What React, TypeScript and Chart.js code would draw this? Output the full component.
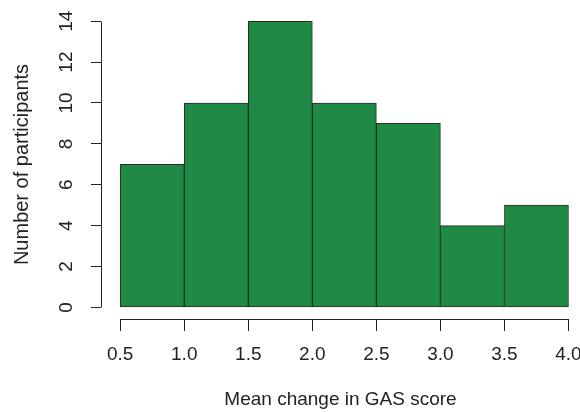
import React, { useEffect, useRef } from 'react';
import { Chart, registerables } from 'chart.js';

Chart.register(...registerables);

// ---- data ----
const binStarts = [0.5, 1.0, 1.5, 2.0, 2.5, 3.0, 3.5];
const binWidth = 0.5;
const counts = [7, 10, 14, 10, 9, 4, 5];
const xTicks = [0.5, 1.0, 1.5, 2.0, 2.5, 3.0, 3.5, 4.0];
const yTicks = [0, 2, 4, 6, 8, 10, 12, 14];
const xTitle = 'Mean change in GAS score';
const yTitle = 'Number of participants';

const FONT = '"Liberation Sans", Arial, Helvetica, sans-serif';
const INK = '#222222';

function drawRAxes(chart: any) {
  const { ctx, chartArea } = chart;
  const xs = chart.scales.x;
  const ys = chart.scales.y;
  if (!xs || !ys) return;
  ctx.save();
  ctx.strokeStyle = INK;
  ctx.lineWidth = 1;
  ctx.beginPath();
  const yLine = Math.round(chartArea.bottom - 0.5) + 0.5;
  ctx.moveTo(Math.round(xs.getPixelForValue(xTicks[0])) + 0.5, yLine);
  ctx.lineTo(Math.round(xs.getPixelForValue(xTicks[xTicks.length - 1])) + 0.5, yLine);
  const xLine = Math.round(chartArea.left - 0.5) + 0.5;
  ctx.moveTo(xLine, Math.round(ys.getPixelForValue(yTicks[0])) + 0.5);
  ctx.lineTo(xLine, Math.round(ys.getPixelForValue(yTicks[yTicks.length - 1])) + 0.5);
  ctx.stroke();
  ctx.restore();
}

const rAxesPlugin = {
  id: 'rAxesLines',
  afterDatasetsDraw(chart: any) {
    drawRAxes(chart);
  },
};

export default function App() {
  const ref = useRef<HTMLCanvasElement | null>(null);

  useEffect(() => {
    if (!ref.current) return;
    const data = binStarts.map((s, i) => ({ x: s + binWidth / 2, y: counts[i] }));
    const chart = new Chart(ref.current, {
      type: 'bar',
      data: {
        datasets: [
          {
            data: data as any,
            backgroundColor: '#1f8a45',
            borderColor: '#2b2b2b',
            borderWidth: 1,
            borderSkipped: false,
            barPercentage: 1,
            categoryPercentage: 1,
          },
        ],
      },
      options: {
        animation: false,
        responsive: false,
        maintainAspectRatio: false,
        layout: { padding: { top: 10, right: 0, bottom: 0, left: 0 } },
        plugins: { legend: { display: false }, tooltip: { enabled: false } },
        scales: {
          x: {
            type: 'linear',
            offset: false,
            min: 0.35,
            max: 4.09,
            afterBuildTicks: (s: any) => {
              s.ticks = xTicks.map((v) => ({ value: v }));
            },
            afterFit: (s: any) => {
              s.height = 93;
              s.paddingLeft = 0;
              s.paddingRight = 0;
            },
            grid: { display: true, offset: false, drawOnChartArea: false, drawTicks: true, tickLength: 12, color: INK },
            border: { display: false },
            ticks: {
              autoSkip: false,
              maxRotation: 0,
              padding: 12,
              color: INK,
              font: { family: FONT, size: 19 },
              callback: (v: any) => Number(v).toFixed(1),
            },
            title: {
              display: true,
              text: xTitle,
              color: INK,
              font: { family: FONT, size: 19 },
              padding: { top: 0, bottom: 1 },
            },
          },
          y: {
            type: 'linear',
            min: -0.57,
            max: 14.55,
            afterBuildTicks: (s: any) => {
              s.ticks = yTicks.map((v) => ({ value: v }));
            },
            afterFit: (s: any) => {
              s.width = 101;
              s.paddingTop = 0;
              s.paddingBottom = 0;
            },
            grid: { display: true, drawOnChartArea: false, drawTicks: true, tickLength: 10, color: INK },
            border: { display: false },
            ticks: {
              autoSkip: false,
              minRotation: 90,
              maxRotation: 90,
              crossAlign: 'center',
              padding: 14,
              color: INK,
              font: { family: FONT, size: 19 },
              callback: (v: any) => String(v),
            },
            title: {
              display: true,
              text: yTitle,
              color: INK,
              font: { family: FONT, size: 20 },
              padding: { top: 10, bottom: 0 },
            },
          },
        },
      },
      plugins: [rAxesPlugin],
    });
    return () => chart.destroy();
  }, []);

  return (
    <div style={{ position: 'fixed', left: 0, top: 0, width: 580, height: 412, background: '#ffffff' }}>
      <canvas ref={ref} width={580} height={412} style={{ display: 'block', width: 580, height: 412 }} />
    </div>
  );
}
